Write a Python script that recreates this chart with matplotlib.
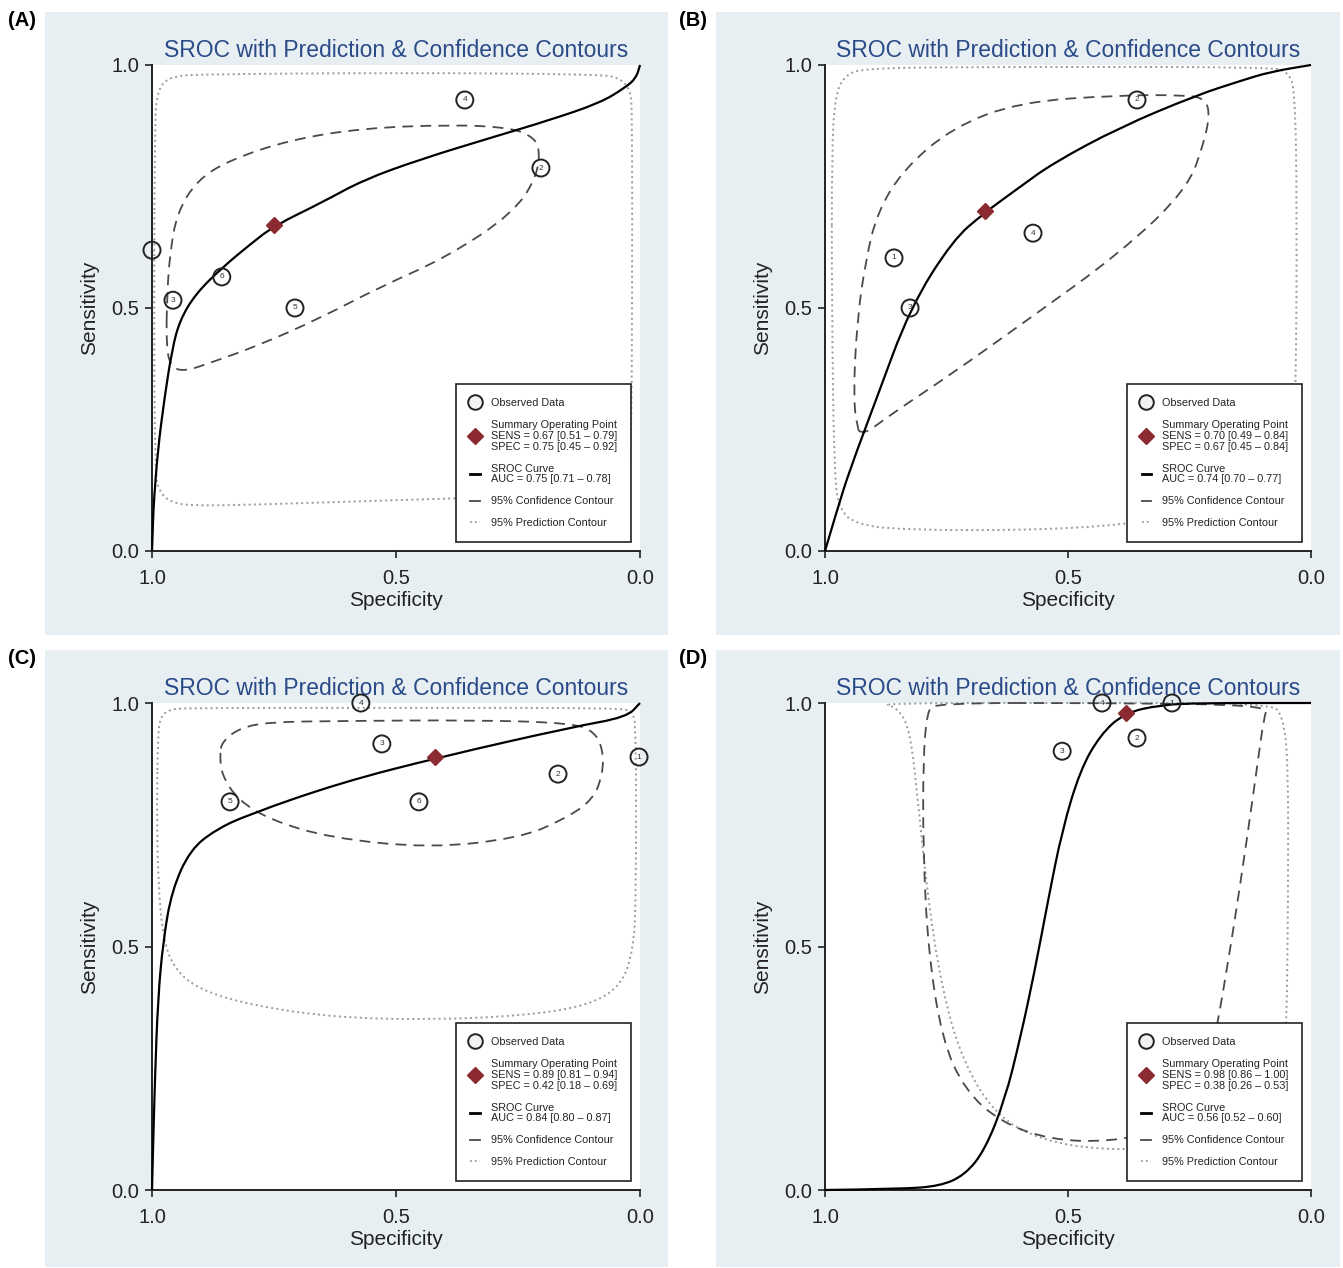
import numpy as np
import matplotlib.pyplot as plt
from matplotlib.lines import Line2D
from matplotlib.patches import Rectangle, PathPatch
from matplotlib.path import Path

plt.rcParams['font.family'] = ['Liberation Sans', 'DejaVu Sans']

# ---- data: (specificity, sensitivity) ----
# panel A
a_obs_spec = [1.0, 0.203, 0.957, 0.359, 0.707, 0.857]
a_obs_sens = [0.619, 0.788, 0.516, 0.928, 0.500, 0.564]
a_sum = (0.75, 0.67)
a_sroc = [(1.0, 0.0), (0.998, 0.06), (0.996, 0.105), (0.988, 0.208), (0.975, 0.311),
          (0.959, 0.414), (0.943, 0.475), (0.91, 0.53), (0.855, 0.584), (0.80, 0.630),
          (0.75, 0.669), (0.65, 0.718), (0.568, 0.763), (0.45, 0.806), (0.30, 0.852),
          (0.184, 0.887), (0.082, 0.922), (0.031, 0.953), (0.008, 0.973), (0.0, 1.0)]
a_conf = [(0.969, 0.531), (0.963, 0.613), (0.949, 0.695), (0.908, 0.763), (0.840, 0.805),
          (0.717, 0.846), (0.568, 0.870), (0.389, 0.877), (0.273, 0.872), (0.225, 0.856),
          (0.205, 0.831), (0.211, 0.770), (0.260, 0.695), (0.395, 0.605), (0.533, 0.543),
          (0.656, 0.479), (0.779, 0.424), (0.881, 0.387), (0.932, 0.370), (0.959, 0.377),
          (0.971, 0.414)]
a_pred = [(0.994, 0.887), (0.990, 0.938), (0.977, 0.965), (0.953, 0.977), (0.902, 0.981),
          (0.492, 0.984), (0.082, 0.981), (0.041, 0.973), (0.020, 0.949), (0.016, 0.907),
          (0.016, 0.516), (0.018, 0.208), (0.025, 0.156), (0.045, 0.130), (0.082, 0.117),
          (0.492, 0.105), (0.799, 0.095), (0.922, 0.093), (0.963, 0.101), (0.984, 0.121),
          (0.994, 0.156), (0.996, 0.516)]
a_legend = ['SENS = 0.67 [0.51 \u2013 0.79]', 'SPEC = 0.75 [0.45 \u2013 0.92]',
            'AUC = 0.75 [0.71 \u2013 0.78]']

# panel B
b_obs_spec = [0.858, 0.358, 0.825, 0.572]
b_obs_sens = [0.603, 0.928, 0.500, 0.654]
b_sum = (0.67, 0.70)
b_sroc = [(1.0, 0.0), (0.975, 0.085), (0.949, 0.167), (0.895, 0.311), (0.825, 0.5),
          (0.737, 0.640), (0.673, 0.695), (0.599, 0.749), (0.531, 0.798), (0.393, 0.872),
          (0.235, 0.938), (0.146, 0.967), (0.084, 0.986), (0.0, 1.0)]
b_conf = [(0.932, 0.249), (0.942, 0.311), (0.934, 0.475), (0.916, 0.599), (0.893, 0.695),
          (0.840, 0.784), (0.737, 0.872), (0.599, 0.924), (0.393, 0.938), (0.259, 0.938),
          (0.222, 0.932), (0.208, 0.907), (0.218, 0.846), (0.255, 0.743), (0.393, 0.613),
          (0.584, 0.475), (0.743, 0.362), (0.866, 0.280), (0.912, 0.245), (0.928, 0.245)]
b_pred = [(0.986, 0.825), (0.979, 0.938), (0.959, 0.979), (0.918, 0.994), (0.640, 0.996),
          (0.084, 0.996), (0.047, 0.986), (0.033, 0.949), (0.029, 0.722), (0.031, 0.311),
          (0.039, 0.187), (0.064, 0.136), (0.126, 0.095), (0.331, 0.060), (0.537, 0.043),
          (0.846, 0.043), (0.938, 0.056), (0.969, 0.084), (0.981, 0.146), (0.986, 0.516)]
b_legend = ['SENS = 0.70 [0.49 \u2013 0.84]', 'SPEC = 0.67 [0.45 \u2013 0.84]',
            'AUC = 0.74 [0.70 \u2013 0.77]']

# panel C
c_obs_spec = [0.002, 0.168, 0.529, 0.572, 0.840, 0.453]
c_obs_sens = [0.889, 0.854, 0.916, 1.000, 0.797, 0.797]
c_sum = (0.42, 0.89)
c_sroc = [(1.0, 0.0), (0.998, 0.082), (0.994, 0.226), (0.988, 0.390), (0.977, 0.513),
          (0.959, 0.616), (0.922, 0.698), (0.871, 0.739), (0.805, 0.770), (0.615, 0.836),
          (0.410, 0.889), (0.137, 0.951), (0.027, 0.971), (0.0, 1.0)]
c_conf = [(0.857, 0.920), (0.820, 0.949), (0.758, 0.961), (0.615, 0.963), (0.342, 0.965),
          (0.137, 0.959), (0.092, 0.940), (0.076, 0.903), (0.076, 0.856), (0.096, 0.801),
          (0.158, 0.760), (0.246, 0.723), (0.430, 0.702), (0.635, 0.723), (0.758, 0.760),
          (0.824, 0.801), (0.857, 0.852), (0.861, 0.893)]
c_pred = [(0.988, 0.924), (0.984, 0.969), (0.967, 0.986), (0.932, 0.990), (0.492, 0.990),
          (0.041, 0.990), (0.016, 0.982), (0.008, 0.955), (0.008, 0.595), (0.014, 0.493),
          (0.037, 0.421), (0.102, 0.380), (0.225, 0.359), (0.430, 0.349), (0.635, 0.355),
          (0.799, 0.380), (0.902, 0.411), (0.953, 0.452), (0.977, 0.513), (0.988, 0.637),
          (0.990, 0.801)]
c_legend = ['SENS = 0.89 [0.81 \u2013 0.94]', 'SPEC = 0.42 [0.18 \u2013 0.69]',
            'AUC = 0.84 [0.80 \u2013 0.87]']

# panel D
d_obs_spec = [0.286, 0.358, 0.512, 0.430]
d_obs_sens = [1.000, 0.928, 0.901, 1.000]
d_sum = (0.38, 0.98)
d_sroc = [(1.0, 0.0), (0.846, 0.002), (0.763, 0.008), (0.712, 0.031), (0.671, 0.082),
          (0.630, 0.185), (0.599, 0.308), (0.568, 0.452), (0.541, 0.595), (0.512, 0.739),
          (0.475, 0.862), (0.434, 0.934), (0.385, 0.979), (0.311, 0.996), (0.228, 1.0),
          (0.0, 1.0)]
d_conf = [(0.774, 1.0), (0.790, 0.982), (0.798, 0.883), (0.798, 0.698), (0.788, 0.493),
          (0.759, 0.308), (0.712, 0.205), (0.640, 0.140), (0.537, 0.103), (0.414, 0.099),
          (0.300, 0.123), (0.228, 0.175), (0.198, 0.308), (0.163, 0.513), (0.132, 0.719),
          (0.109, 0.883), (0.097, 0.969), (0.088, 0.996), (0.43, 1.0)]
d_pred = [(0.887, 1.0), (0.850, 0.990), (0.825, 0.945), (0.809, 0.801), (0.788, 0.595),
          (0.759, 0.411), (0.718, 0.267), (0.650, 0.154), (0.558, 0.103), (0.434, 0.082),
          (0.270, 0.086), (0.126, 0.103), (0.068, 0.133), (0.051, 0.287), (0.047, 0.595),
          (0.047, 0.883), (0.058, 0.975), (0.084, 1.0), (0.5, 1.0)]
d_legend = ['SENS = 0.98 [0.86 \u2013 1.00]', 'SPEC = 0.38 [0.26 \u2013 0.53]',
            'AUC = 0.56 [0.52 \u2013 0.60]']

panel_names = ['(A)', '(B)', '(C)', '(D)']

BG = '#e8eff3'
TITLE_C = '#2a4a88'
RED = '#8b2a30'

W, H = 1343, 1268
fig = plt.figure(figsize=(W / 100, H / 100), dpi=100)
fig.patch.set_facecolor('white')

# background boxes (px: left, top, right, bottom)
bg_boxes = [(45, 12, 668, 635), (716, 12, 1340, 635), (45, 650, 668, 1267), (716, 650, 1340, 1267)]
ax_boxes = [(152, 65, 640, 551), (825, 65, 1311, 551), (152, 703, 640, 1190), (825, 703, 1311, 1190)]


def smooth_path(pts, closed=False):
    # quadratic bezier through the midpoints, read points act as control points
    p = np.array(pts, dtype=float)
    if closed:
        p = np.vstack([p, p[:1]])
        mids = (p[:-1] + p[1:]) / 2
        verts = [mids[-1]]
        codes = [Path.MOVETO]
        for i in range(len(mids)):
            verts += [p[i], mids[i]]
            codes += [Path.CURVE3, Path.CURVE3]
        return Path(verts, codes)
    mids = (p[:-1] + p[1:]) / 2
    verts = [p[0]]
    codes = [Path.MOVETO]
    for i in range(1, len(p) - 1):
        verts += [p[i], mids[i]]
        codes += [Path.CURVE3, Path.CURVE3]
    verts.append(p[-1])
    codes.append(Path.LINETO)
    return Path(verts, codes)


def add_curve(ax, pts, closed, **kw):
    patch = PathPatch(smooth_path(pts, closed), fill=False, transform=ax.transData,
                      clip_on=False, capstyle='butt', **kw)
    ax.add_patch(patch)


def draw_panel(k, obs_spec, obs_sens, summ, sroc, conf, pred, legtxt):
    l, t, r, b = bg_boxes[k]
    fig.patches.append(Rectangle((l / W, 1 - b / H), (r - l) / W, (b - t) / H,
                                 transform=fig.transFigure, facecolor=BG, edgecolor='none',
                                 zorder=-5))
    fig.text((l - 37) / W, 1 - (t + 8) / H, panel_names[k], fontsize=14.5, fontweight='bold',
             va='center')

    l, t, r, b = ax_boxes[k]
    ax = fig.add_axes([l / W, 1 - b / H, (r - l) / W, (b - t) / H])
    ax.set_facecolor('white')
    ax.set_xlim(1, 0)
    ax.set_ylim(0, 1)
    for s in ['top', 'right']:
        ax.spines[s].set_visible(False)
    for s in ['left', 'bottom']:
        ax.spines[s].set_linewidth(1.4)
        ax.spines[s].set_color('#222222')
    ax.set_xticks([1.0, 0.5, 0.0])
    ax.set_yticks([0.0, 0.5, 1.0])
    ax.set_xticklabels(['1.0', '0.5', '0.0'])
    ax.set_yticklabels(['0.0', '0.5', '1.0'])
    ax.tick_params(length=5, width=1.2, labelsize=14.5, colors='#222222')
    ax.tick_params(axis='x', pad=8)
    ax.tick_params(axis='y', pad=4)
    ax.set_xlabel('Specificity', fontsize=15, labelpad=2, color='#222222')
    ax.set_ylabel('Sensitivity', fontsize=15, labelpad=9, color='#222222')
    ax.set_title('SROC with Prediction & Confidence Contours', fontsize=16.5,
                 color=TITLE_C, pad=6)

    add_curve(ax, pred, True, edgecolor='#9a9a9a', lw=1.4, ls=(0, (1, 1.7)))
    add_curve(ax, conf, True, edgecolor='#4a4a4a', lw=1.3, ls=(0, (6, 4)))
    add_curve(ax, sroc, False, edgecolor='black', lw=1.6, zorder=3)

    ax.scatter(obs_spec, obs_sens, s=150, facecolors='none', edgecolors='#222222',
               linewidths=1.4, zorder=4, clip_on=False)
    for i, (xs, ys) in enumerate(zip(obs_spec, obs_sens)):
        ax.text(xs, ys, str(i + 1), fontsize=6, ha='center', va='center', color='#333333',
                zorder=5)
    ax.plot([summ[0]], [summ[1]], marker='D', ms=8.5, color=RED, ls='none', zorder=6,
            clip_on=False)

    handles = [
        Line2D([], [], marker='o', ls='none', ms=10.5, mfc='#f2f2f2', mec='#222222', mew=1.4),
        Line2D([], [], marker='D', ls='none', ms=8.5, color=RED),
        Line2D([], [], color='black', lw=2),
        Line2D([], [], color='#4a4a4a', lw=1.3),
        Line2D([], [], color='#9a9a9a', lw=1.3, ls=(0, (1, 1.7))),
    ]
    labels = [
        'Observed Data',
        'Summary Operating Point\n' + legtxt[0] + '\n' + legtxt[1],
        'SROC Curve\n' + legtxt[2],
        '95% Confidence Contour',
        '95% Prediction Contour',
    ]
    leg = ax.legend(handles, labels, loc='lower right', fontsize=7.8, frameon=True,
                    fancybox=False, edgecolor='#222222', framealpha=1,
                    borderpad=1.3, labelspacing=1.1, handlelength=0.9,
                    handletextpad=1.0, borderaxespad=0.8)
    leg.get_frame().set_linewidth(1.2)
    for tx in leg.get_texts():
        tx.set_linespacing(1.1)
        tx.set_color('#222222')
    return ax


draw_panel(0, a_obs_spec, a_obs_sens, a_sum, a_sroc, a_conf, a_pred, a_legend)
draw_panel(1, b_obs_spec, b_obs_sens, b_sum, b_sroc, b_conf, b_pred, b_legend)
draw_panel(2, c_obs_spec, c_obs_sens, c_sum, c_sroc, c_conf, c_pred, c_legend)
draw_panel(3, d_obs_spec, d_obs_sens, d_sum, d_sroc, d_conf, d_pred, d_legend)

fig.savefig('out.png', dpi=100, facecolor='white')
